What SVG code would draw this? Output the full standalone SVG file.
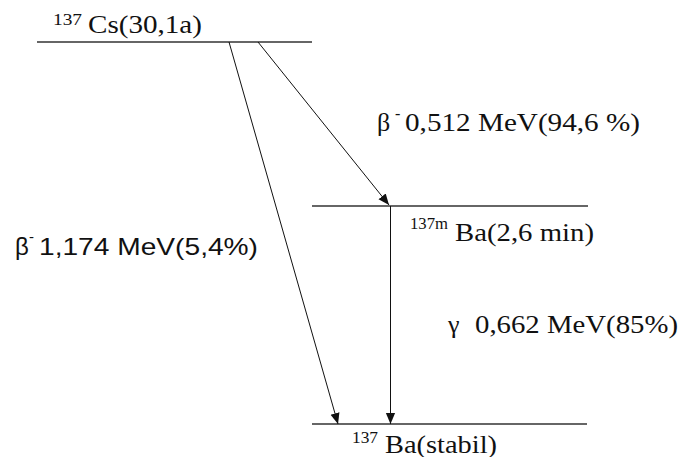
<svg xmlns="http://www.w3.org/2000/svg" width="680" height="457" viewBox="0 0 680 457">
<style>
.lvl{stroke:#333;stroke-width:1.5;fill:none}
.ar{stroke:#111;stroke-width:1;fill:none;marker-end:url(#ah)}
.t{font-family:"Liberation Serif","Times New Roman",serif;fill:#111}
.s{font-family:"Liberation Sans",Arial,sans-serif;fill:#111}
</style>
<defs>
<marker id="ah" viewBox="0 0 10 10" refX="10" refY="5" markerWidth="11" markerHeight="11" markerUnits="userSpaceOnUse" orient="auto">
<path d="M0,0.8 L10,5 L0,9.2 z" fill="#111"/>
</marker>
</defs>
<rect width="680" height="457" fill="#fff"/>
<g id="cs137">
<line class="lvl" x1="37" y1="42" x2="312" y2="42"/>
<text class="t" x="53" y="25" font-size="17" textLength="29" lengthAdjust="spacingAndGlyphs">137</text>
<text class="t" x="88" y="33" font-size="26" textLength="114" lengthAdjust="spacingAndGlyphs">Cs(30,1a)</text>
</g>
<g id="ba137m">
<line class="lvl" x1="312" y1="206" x2="588" y2="206"/>
<text class="t" x="410" y="229" font-size="16" textLength="38" lengthAdjust="spacingAndGlyphs">137m</text>
<text class="t" x="455" y="241" font-size="25" textLength="139" lengthAdjust="spacingAndGlyphs">Ba(2,6 min)</text>
</g>
<g id="ba137">
<line class="lvl" x1="312" y1="424" x2="587" y2="424"/>
<text class="t" x="352" y="443" font-size="16" textLength="26" lengthAdjust="spacingAndGlyphs">137</text>
<text class="t" x="385" y="453" font-size="25" textLength="112" lengthAdjust="spacingAndGlyphs">Ba(stabil)</text>
</g>
<g id="connectors">
<line class="ar" x1="229" y1="42" x2="338" y2="424"/>
<line class="ar" x1="258" y1="42" x2="389" y2="205"/>
<line class="ar" x1="390.5" y1="206" x2="390.5" y2="424"/>
</g>
<g id="labels">
<text class="t" x="377" y="131" font-size="26">β</text>
<text class="t" x="395" y="119" font-size="16">-</text>
<text class="t" x="405" y="131" font-size="26" textLength="235" lengthAdjust="spacingAndGlyphs">0,512 MeV(94,6 %)</text>
<text class="s" x="15" y="255" font-size="24">β</text>
<text class="s" x="29" y="242" font-size="15">-</text>
<text class="s" x="39" y="255" font-size="24" textLength="219" lengthAdjust="spacingAndGlyphs">1,174 MeV(5,4%)</text>
<text class="t" x="448" y="333" font-size="26">γ</text>
<text class="t" x="475" y="333" font-size="26" textLength="203" lengthAdjust="spacingAndGlyphs">0,662 MeV(85%)</text>
</g>
</svg>
